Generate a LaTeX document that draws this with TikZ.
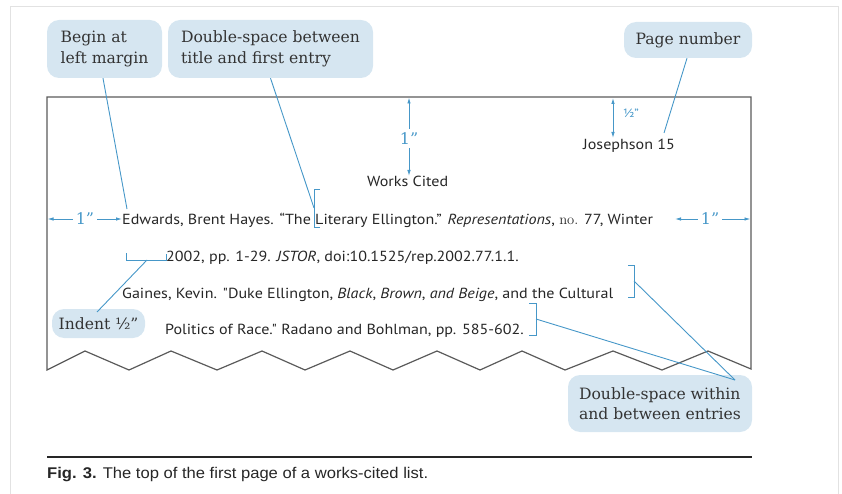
\documentclass[tikz,border=0pt]{standalone}
\usepackage{fontspec}
\usetikzlibrary{arrows.meta}
\newfontfamily\pagefont[FakeStretch=1.1]{PT Sans}
\newfontfamily\capfont[FakeStretch=1.07]{Liberation Sans}
\newfontfamily\callfont{DejaVu Serif}
\definecolor{boxblue}{HTML}{D6E6F1}
\definecolor{lineblue}{HTML}{4697C8}
\definecolor{boxtext}{HTML}{333333}
\definecolor{pagegray}{HTML}{5A5A5A}
\definecolor{framegray}{HTML}{E2E2E2}
\tikzset{
  callout/.style={fill=boxblue, rounded corners=12pt, text=boxtext, align=left,
    font=\callfont\fontsize{15.6}{20.5}\selectfont, inner sep=0pt},
  lead/.style={draw=lineblue, line width=0.9pt},
  brk/.style={draw=lineblue, line width=1pt},
  dimarrow/.style={draw=lineblue, line width=0.9pt, -{Latex[length=6pt,width=3.5pt]}},
  dimlabel/.style={text=lineblue, font=\callfont\fontsize{16}{16}\selectfont, inner sep=0pt},
  pagetext/.style={anchor=base west, inner sep=0pt, text=black!85, font=\pagefont\fontsize{14.6}{15}\selectfont},
}
\begin{document}
\begin{tikzpicture}[x=1pt,y=-1pt]
\useasboundingbox (0,0) rectangle (842,494);
% outer light frame
\draw[framegray, line width=1pt] (10,494) -- (10,7) -- (838,7) -- (838,494);
% page outline
\draw[pagegray, line width=1.2pt, line join=miter]
  (47,370) -- (47,97) -- (751,97) -- (751,369)
  -- (708,351) -- (662,370) -- (613,351) -- (565,370) -- (522,351) -- (480,370)
  -- (437,351) -- (393,370) -- (350,351) -- (305,370) -- (262,351) -- (217,370)
  -- (171,351) -- (129,370) -- (85,351) -- cycle;

% page texts
\node[pagetext] (pnum) at (583,150) {Josephson 15};
\node[pagetext] (title) at (367,187) {Works Cited};
\node[pagetext] (l1) at (122,225) {Edwards, Brent Hayes. “The Literary Ellington.” \textit{Representations}, {\rmfamily no.} 77, Winter};
\node[pagetext] (l2) at (166,261) {2002, pp. 1-29. \textit{JSTOR}, doi:10.1525/rep.2002.77.1.1.};
\node[pagetext] (l3) at (122,298) {Gaines, Kevin. "Duke Ellington, \textit{Black}, \textit{Brown}, \textit{and Beige}, and the Cultural};
\node[pagetext] (l4) at (165,334) {Politics of Race." Radano and Bohlman, pp. 585-602.};

% callouts
\node[callout, minimum width=115pt, minimum height=58pt] (begin) at (104.5,49) {Begin at\\left margin};
\node[callout, minimum width=205pt, minimum height=58pt] (dsb) at (270.5,49) {Double-space between\\title and first entry};
\node[callout, minimum width=128pt, minimum height=36pt] (pn) at (688,40) {Page number};
\node[callout, minimum width=93pt, minimum height=29pt] (ind) at (98.5,323.5) {Indent ½”};
\node[callout, minimum width=184pt, minimum height=57pt] (dsw) at (660,403.5) {Double-space within\\and between entries};

% coordinates for connector ends
\coordinate (e1) at (127,209);
\coordinate (bA) at (314,208);
\coordinate (pnEnd) at (664,133);
\coordinate (indEnd) at (147,260);
\coordinate (bC) at (634,281);
\coordinate (bD) at (536,319);
\coordinate (dswEnd) at (735,380);
\coordinate (indStart) at (97,312);

% brackets
\draw[brk] (320,190) -- (314,190) -- (314,227) -- (320,227);
\draw[brk] (126,253) -- (126,260) -- (166,260) -- (166,254);
\draw[brk] (628,265) -- (634,265) -- (634,297) -- (628,297);
\draw[brk] (529,303) -- (536,303) -- (536,335) -- (529,335);

% leaders
\draw[lead] ([xshift=-1.5pt]begin.south) -- (e1);
\draw[lead] (dsb.south) -- (bA);
\draw[lead] ([xshift=-1pt]pn.south) -- (pnEnd);
\draw[lead] (indStart) -- (indEnd);
\draw[lead] (bC) -- (dswEnd);
\draw[lead] (bD) -- (dswEnd);

% vertical 1 inch
\node[dimlabel] (v1) at (409,139) {1”};
\coordinate (topv) at (409,97.5);
\coordinate (titleTop) at (409,176);
\draw[dimarrow] (v1.north) ++(0,-4) -- (topv);
\draw[dimarrow] (v1.south) ++(0,3) -- (titleTop);
% half inch
\coordinate (hTop) at (613,98);
\coordinate (hBot) at (613,138);
\draw[draw=lineblue, line width=0.9pt, {Latex[length=6pt,width=3.5pt]}-{Latex[length=6pt,width=3.5pt]}] (hTop) -- (hBot);
\node[text=lineblue, font=\pagefont\fontsize{12}{12}\selectfont, inner sep=0pt] (hl) at (631,113) {½”};
% left 1 inch
\node[dimlabel] (lh) at (85,219) {1”};
\coordinate (leftEdge) at (47.5,219);
\coordinate (leftText) at (122,219);
\draw[dimarrow] ([xshift=-3pt]lh.west) -- (leftEdge);
\draw[dimarrow] ([xshift=3pt]lh.east) -- (leftText);
% right 1 inch
\node[dimlabel] (rh) at (710,219) {1”};
\coordinate (rightText) at (675,219);
\coordinate (rightEdge) at (750.5,219);
\draw[dimarrow] ([xshift=-3pt]rh.west) -- (rightText);
\draw[dimarrow] ([xshift=3pt]rh.east) -- (rightEdge);

% caption
\coordinate (rl) at (47,457);
\coordinate (rr) at (752,457);
\draw[black!85, line width=1.2pt] (rl) -- (rr);
\node[anchor=base west, inner sep=0pt, text=black!85, font=\capfont\fontsize{15.5}{16}\selectfont] (cap) at (47,478)
  {\textbf{Fig. 3.} The top of the first page of a works-cited list.};
\end{tikzpicture}
\end{document}
